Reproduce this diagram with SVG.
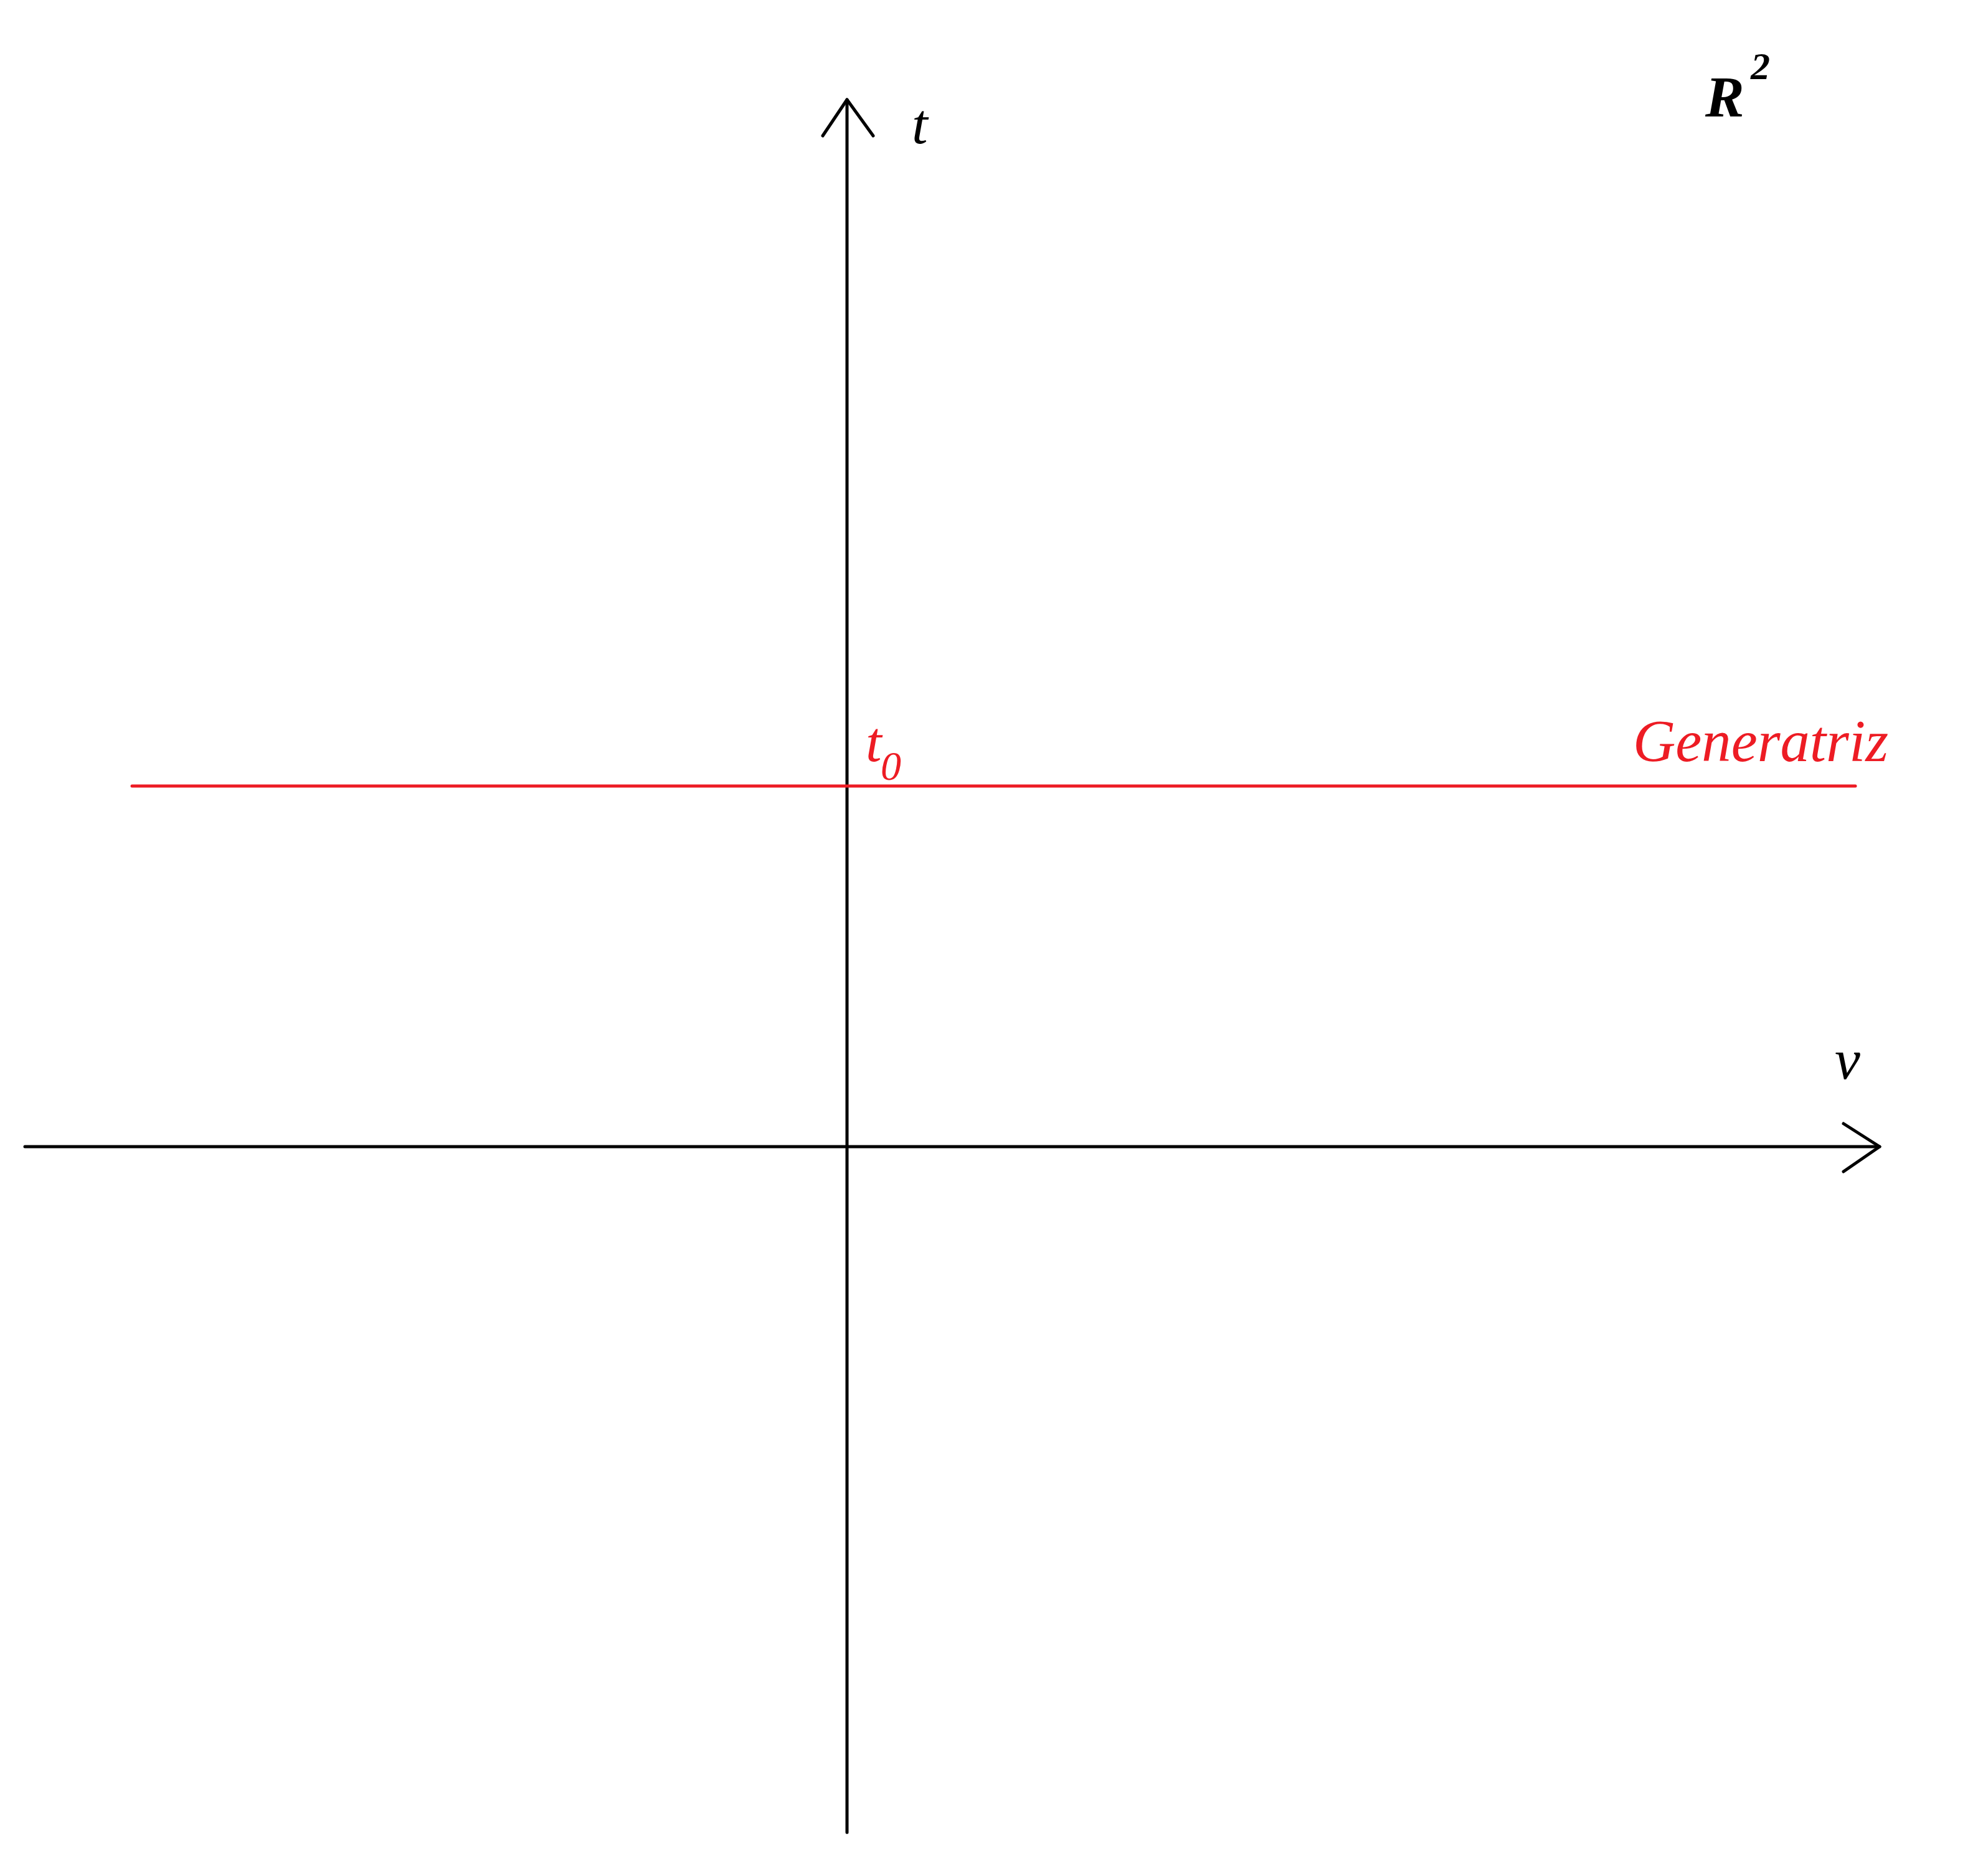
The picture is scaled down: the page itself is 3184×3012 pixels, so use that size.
<svg xmlns="http://www.w3.org/2000/svg" width="3184" height="3012" viewBox="0 0 3184 3012">
<style>
.ax{stroke:#000;stroke-width:5;fill:none;stroke-linecap:round;stroke-linejoin:round}
.gen{stroke:#ed1c24;stroke-width:5;fill:none;stroke-linecap:round}
.lbl{font-family:"Liberation Serif","Times New Roman",serif;font-style:italic}
</style>
<rect width="3184" height="3012" fill="#fff"/>
<g id="connectors">
<path class="ax" d="M1360,2942 L1360,160"/>
<path class="ax" d="M1321,218 L1360,160 L1402,218"/>
<path class="ax" d="M40,1841 L3018,1841"/>
<path class="ax" d="M2960,1804 L3018,1841 L2960,1881"/>
<path class="gen" d="M212,1262 L2979,1262"/>
</g>
<g id="label-t"><text class="lbl" x="1464" y="230" font-size="92">t</text></g>
<g id="label-v"><text class="lbl" x="2946" y="1732" font-size="92">v</text></g>
<g id="label-R2"><text class="lbl" x="2738" y="187" font-size="94" font-weight="bold">R</text><text class="lbl" x="2811" y="127" font-size="62" font-weight="bold">2</text></g>
<g id="label-t0" fill="#ed1c24"><text class="lbl" x="1390" y="1222" font-size="92">t</text><text class="lbl" x="1414" y="1252" font-size="66">0</text></g>
<g id="label-generatriz"><text class="lbl" x="2622" y="1222" font-size="95" fill="#ed1c24" textLength="410" lengthAdjust="spacingAndGlyphs">Generatriz</text></g>
</svg>
